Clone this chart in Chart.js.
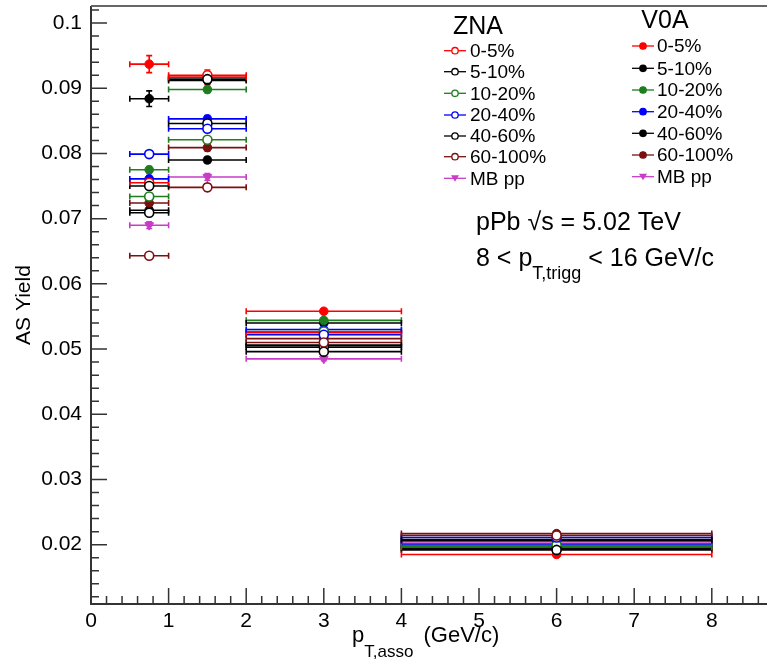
<!DOCTYPE html>
<html><head><meta charset="utf-8">
<script src="https://cdn.jsdelivr.net/npm/chart.js@4/dist/chart.umd.min.js"></script>
<style>
html,body{margin:0;padding:0;background:#fff;overflow:hidden;}
#wrap{width:780px;height:661px;position:relative;}
</style></head><body>
<div id="wrap"><canvas id="c" width="780" height="661"></canvas></div>
<script>
// ---- data ----
const ptCenters    = [0.75, 1.5, 3, 6];
const ptHalfWidths = [0.25, 0.5, 1, 2];
const centLabels   = ['0-5%', '5-10%', '10-20%', '20-40%', '40-60%', '60-100%'];

// ZNA (open markers)
const zna0_5    = [0.0755, 0.0920, 0.0525, 0.0196];
const zna5_10   = [0.0750, 0.0846, 0.0503, 0.0194];
const zna10_20  = [0.0734, 0.0821, 0.0527, 0.0199];
const zna20_40  = [0.0799, 0.0838, 0.0522, 0.0211];
const zna40_60  = [0.0709, 0.0914, 0.0496, 0.0192];
const zna60_100 = [0.0643, 0.0748, 0.0510, 0.0214];
// V0A (filled markers)
const v0a0_5    = [0.0937, 0.0917, 0.0558, 0.0185];
const v0a5_10   = [0.0884, 0.0912, 0.0540, 0.0208];
const v0a10_20  = [0.0775, 0.0898, 0.0544, 0.0197];
const v0a20_40  = [0.0761, 0.0853, 0.0530, 0.0201];
const v0a40_60  = [0.0713, 0.0790, 0.0506, 0.0206];
const v0a60_100 = [0.0724, 0.0809, 0.0516, 0.0217];
// MB pp
const mbpp      = [0.0690, 0.0764, 0.0485, 0.0204];

// statistical errors
const errLarge  = [0.0013, 0.0011, 0.0003, 0.0003];
const errBlack  = [0.0012, 0.0005, 0.0003, 0.0003];
const errSmall  = [0.0005, 0.0005, 0.0003, 0.0003];

const xTickStep = 1, yTickStep = 0.01;

// ---- styles ----
const RED='#ff0000', BLACK='#000000', GREEN='#1e7d1e', BLUE='#0000ff', BROWN='#7a1010', MAG='#c83cc8';
const FONT='"Liberation Sans", Arial, Helvetica, sans-serif';

function pts(vals, errs){ return vals.map((v,i)=>({x:ptCenters[i], y:v, xe:ptHalfWidths[i], ye:errs[i]})); }
function openDs(label, vals, errs, col){
  return {label, data:pts(vals,errs), borderColor:col, backgroundColor:'#ffffff', pointStyle:'circle',
          pointRadius:4.5, pointBorderWidth:1.6, showLine:false, group:'ZNA', open:true};
}
function fillDs(label, vals, errs, col){
  return {label, data:pts(vals,errs), borderColor:col, backgroundColor:col, pointStyle:'circle',
          pointRadius:4.3, pointBorderWidth:1, showLine:false, group:'V0A', open:false};
}
const datasets = [
  openDs(centLabels[5], zna60_100, errSmall, BROWN),
  openDs(centLabels[4], zna40_60, errSmall, BLACK),
  openDs(centLabels[3], zna20_40, errSmall, BLUE),
  openDs(centLabels[2], zna10_20, errSmall, GREEN),
  openDs(centLabels[1], zna5_10, errSmall, BLACK),
  openDs(centLabels[0], zna0_5, errSmall, RED),
  {label:'MB pp', data:pts(mbpp, errSmall), borderColor:MAG, backgroundColor:MAG, pointStyle:'triangle',
   rotation:180, pointRadius:5, pointBorderWidth:1, showLine:false, group:'pp'},
  fillDs(centLabels[5], v0a60_100, errSmall, BROWN),
  fillDs(centLabels[4], v0a40_60, errSmall, BLACK),
  fillDs(centLabels[3], v0a20_40, errSmall, BLUE),
  fillDs(centLabels[2], v0a10_20, errSmall, GREEN),
  fillDs(centLabels[1], v0a5_10, errBlack, BLACK),
  fillDs(centLabels[0], v0a0_5, errLarge, RED),
];

// error bars drawn through the chart scales
const errorBars = {
  id:'errorBars',
  beforeDatasetsDraw(chart){
    const {ctx, scales:{x, y}} = chart;
    ctx.save();
    chart.data.datasets.forEach((ds)=>{
      ctx.strokeStyle = ds.borderColor; ctx.lineWidth = 1.6;
      ds.data.forEach(p=>{
        const x0=x.getPixelForValue(p.x-p.xe), x1=x.getPixelForValue(p.x+p.xe), xc=x.getPixelForValue(p.x);
        const yc=y.getPixelForValue(p.y), y0=y.getPixelForValue(p.y-p.ye), y1=y.getPixelForValue(p.y+p.ye);
        ctx.beginPath();
        ctx.moveTo(x0,yc); ctx.lineTo(x1,yc);
        ctx.moveTo(x0,yc-3); ctx.lineTo(x0,yc+3);
        ctx.moveTo(x1,yc-3); ctx.lineTo(x1,yc+3);
        ctx.moveTo(xc,y0); ctx.lineTo(xc,y1);
        ctx.moveTo(xc-3,y0); ctx.lineTo(xc+3,y0);
        ctx.moveTo(xc-3,y1); ctx.lineTo(xc+3,y1);
        ctx.stroke();
      });
    });
    ctx.restore();
  }
};

// frame and inward tick marks (ROOT style)
const frame = {
  id:'frame',
  afterDraw(chart){
    const {ctx, chartArea:a, scales:{x, y}} = chart;
    ctx.save();
    ctx.strokeStyle='#333'; ctx.lineWidth=1.5;
    ctx.beginPath();
    for(let i=0;i<=Math.round(x.max/0.2);i++){
      const v=i*0.2; if(v>x.max) break;
      const px=x.getPixelForValue(v); const major = (i%5===0);
      ctx.moveTo(px,a.bottom); ctx.lineTo(px,a.bottom-(major?16:8));
    }
    for(let i=0;i<=60;i++){
      const v=i*0.002; if(v<y.min-1e-9||v>y.max+1e-9) continue;
      const py=y.getPixelForValue(v); const major=(i%5===0);
      ctx.moveTo(a.left,py); ctx.lineTo(a.left+(major?16:8),py);
    }
    ctx.stroke();
    ctx.lineWidth=2; ctx.strokeStyle='#333';
    ctx.beginPath();
    ctx.moveTo(a.left,a.top); ctx.lineTo(a.left,a.bottom); ctx.lineTo(a.right,a.bottom);
    ctx.stroke();
    ctx.strokeStyle='#666'; ctx.lineWidth=2;
    ctx.beginPath(); ctx.moveTo(a.left,a.top); ctx.lineTo(a.right,a.top); ctx.stroke();

    // x axis title with subscript
    ctx.fillStyle='#000'; ctx.textBaseline='alphabetic'; ctx.textAlign='left';
    let cx=352;
    ctx.font='22px '+FONT; ctx.fillText('p',cx,642); cx+=ctx.measureText('p').width;
    ctx.font='17px '+FONT; ctx.fillText('T,asso',cx,657); cx+=ctx.measureText('T,asso').width+4;
    ctx.font='22px '+FONT; ctx.fillText(' (GeV/c)',cx,642);

    // annotation
    ctx.font='25px '+FONT;
    ctx.fillText('pPb \u221As = 5.02 TeV', 476, 230);
    cx=476;
    ctx.fillText('8 < p',cx,266); cx+=ctx.measureText('8 < p').width;
    ctx.font='18px '+FONT; ctx.fillText('T,trigg',cx,279); cx+=ctx.measureText('T,trigg').width;
    ctx.font='25px '+FONT; ctx.fillText(' < 16 GeV/c',cx,266);

    // legends
    function marker(ds, mx, my){
      ctx.strokeStyle=ds.borderColor; ctx.lineWidth=1.3;
      ctx.beginPath(); ctx.moveTo(mx-11,my); ctx.lineTo(mx+11,my); ctx.stroke();
      if(ds.pointStyle==='triangle'){
        ctx.fillStyle=ds.borderColor; ctx.beginPath();
        ctx.moveTo(mx-4,my-3); ctx.lineTo(mx+4,my-3); ctx.lineTo(mx,my+3.5); ctx.closePath(); ctx.fill();
      } else {
        ctx.beginPath(); ctx.arc(mx,my,3.2,0,Math.PI*2);
        ctx.fillStyle=ds.open?'#fff':ds.borderColor; ctx.fill(); ctx.stroke();
      }
    }
    const zna = chart.data.datasets.filter(d=>d.group==='ZNA').reverse();
    const v0a = chart.data.datasets.filter(d=>d.group==='V0A').reverse();
    const pp  = chart.data.datasets.find(d=>d.group==='pp');
    ctx.fillStyle='#000'; ctx.textBaseline='middle';
    ctx.font='25px '+FONT; ctx.textAlign='center';
    ctx.fillText('ZNA',478,27); ctx.fillText('V0A',665,21);
    ctx.textAlign='left';
    const znaRows=[50.7,71.7,93.3,115,136,156.7,178.3];
    const v0aRows=[46,68.3,90,111.7,133.3,155,176.7];
    [...zna,pp].forEach((ds,i)=>{ marker(ds,455,znaRows[i]); ctx.fillStyle='#000'; ctx.font='19px '+FONT; ctx.fillText(ds.label,470,znaRows[i]+1); });
    [...v0a,pp].forEach((ds,i)=>{ marker(ds,643,v0aRows[i]); ctx.fillStyle='#000'; ctx.font='19px '+FONT; ctx.fillText(ds.label,657,v0aRows[i]+1); });
    ctx.restore();
  }
};

new Chart(document.getElementById('c'), {
  type:'scatter',
  data:{datasets},
  options:{
    responsive:false, animation:false,
    layout:{padding:{top:5,right:10,left:0,bottom:0}},
    plugins:{legend:{display:false}, tooltip:{enabled:false}},
    scales:{
      x:{type:'linear', min:0, max:8.75,
         afterFit(s){ s.height=57; s.paddingLeft=0; s.paddingRight=0; },
         grid:{display:false, drawTicks:false}, border:{display:false},
         ticks:{stepSize:xTickStep, includeBounds:false, padding:5, color:'#000', maxRotation:0,
                font:{family:FONT, size:21}, callback:v=>String(Math.round(v))}},
      y:{type:'linear', min:0.0109, max:0.1026,
         afterFit(s){ s.width=91; s.paddingTop=0; s.paddingBottom=0; },
         grid:{display:false, drawTicks:false}, border:{display:false},
         title:{display:true, text:'AS Yield', color:'#000', font:{family:FONT, size:21}, padding:{top:12,bottom:0}},
         ticks:{stepSize:yTickStep, includeBounds:false, padding:9, color:'#000',
                font:{family:FONT, size:21}, callback:v=>Number(v.toFixed(3)).toString()}}
    }
  },
  plugins:[errorBars, frame]
});
</script>
</body></html>
